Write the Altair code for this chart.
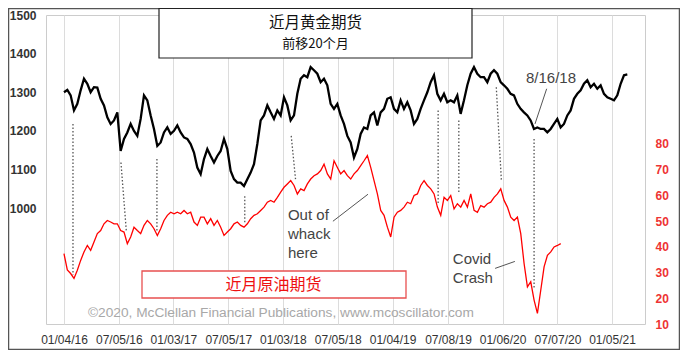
import altair as alt
import pandas as pd

# ---------------- data ----------------
# Near-month gold futures (shifted forward 20 months), evenly spaced samples
gold = [1300, 1306, 1292, 1253, 1270, 1305, 1335, 1322, 1300, 1313, 1312, 1283, 1266, 1235,
        1218, 1227, 1248, 1148, 1179, 1196, 1218, 1200, 1187, 1231, 1292, 1279, 1240, 1205,
        1161, 1170, 1196, 1209, 1192, 1200, 1214, 1196, 1183, 1179, 1166, 1144, 1105, 1088,
        1127, 1153, 1135, 1118, 1135, 1148, 1179, 1153, 1096, 1075, 1066, 1066, 1057, 1075,
        1092, 1114, 1166, 1227, 1240, 1266, 1248, 1231, 1253, 1240, 1287, 1266, 1227, 1240,
        1296, 1335, 1344, 1339, 1365, 1357, 1348, 1326, 1335, 1318, 1270, 1257, 1270, 1240,
        1218, 1187, 1170, 1131, 1153, 1192, 1209, 1205, 1240, 1248, 1214, 1248, 1257, 1283,
        1287, 1257, 1248, 1279, 1257, 1274, 1253, 1218, 1231, 1257, 1279, 1300, 1326, 1344,
        1296, 1279, 1296, 1274, 1279, 1274, 1292, 1244, 1279, 1318, 1348, 1365, 1348, 1339,
        1339, 1326, 1348, 1357, 1348, 1326, 1318, 1309, 1296, 1292, 1270, 1257, 1248, 1240,
        1227, 1205, 1209, 1205, 1205, 1196, 1205, 1218, 1231, 1209, 1218, 1240, 1253, 1283,
        1296, 1305, 1322, 1331, 1313, 1322, 1309, 1318, 1296, 1287, 1283, 1279, 1292, 1322,
        1344, 1346]
GOLD_START, GOLD_END = "2016-01-04", "2021-02-25"

# Near-month crude oil futures, evenly spaced samples
oil = [37.3, 31.0, 29.6, 27.7, 30.9, 34.7, 38.0, 40.5, 38.6, 41.8, 45.1, 46.3, 48.9, 50.2,
       49.6, 48.9, 48.9, 46.3, 45.7, 41.2, 43.8, 47.6, 46.3, 45.1, 48.3, 50.2, 48.9, 47.0,
       44.4, 47.0, 50.2, 52.2, 53.4, 52.8, 53.4, 52.8, 54.1, 52.8, 53.4, 49.6, 48.3, 51.5,
       51.5, 48.9, 50.9, 48.3, 50.2, 47.6, 44.4, 45.7, 47.0, 48.9, 49.6, 48.3, 47.6, 48.9,
       50.9, 52.2, 52.8, 54.1, 55.4, 57.3, 58.0, 57.3, 59.2, 61.2, 63.1, 64.4, 65.7, 63.8,
       60.5, 62.5, 61.8, 64.4, 66.3, 67.6, 68.3, 69.6, 72.1, 68.3, 66.3, 73.4, 70.8, 68.3,
       69.6, 67.6, 66.3, 68.3, 69.6, 71.5, 73.4, 75.4, 70.8, 65.7, 60.5, 54.1, 52.2, 47.6,
       43.8, 51.5, 53.4, 54.1, 55.4, 57.3, 56.7, 59.9, 60.5, 63.8, 65.7, 63.8, 62.5, 60.5,
       55.4, 52.2, 59.2, 58.0, 59.9, 54.7, 56.7, 55.4, 58.0, 55.4, 60.5, 54.1, 53.4, 56.0,
       55.4, 56.7, 57.3, 59.2, 60.5, 62.5, 58.0, 55.4, 51.5, 50.2, 51.5, 45.1, 33.5, 24.4,
       26.4, 19.3, 14.1, 23.1, 32.2, 36.7, 38.0, 39.9, 40.5, 41.2]
OIL_START, OIL_END = "2016-01-04", "2020-07-18"

tick_dates = ["2016-01-04", "2016-07-05", "2017-01-03", "2017-07-05", "2018-01-03",
              "2018-07-05", "2019-01-04", "2019-07-08", "2020-01-06", "2020-07-07",
              "2021-01-05"]
x_domain = ["2015-11-05", "2021-04-25"]
gold_ticks = [1000, 1100, 1200, 1300, 1400, 1500]
gold_domain = [700, 1500]
oil_ticks = [10, 20, 30, 40, 50, 60, 70, 80]
oil_domain = [10, 130]

# dotted connectors (gold trough -> oil trough), expressed on the gold scale
conn_d1 = ["2016-02-03", "2016-07-12", "2016-11-09", "2017-08-29", "2018-01-31",
           "2019-06-05", "2019-08-13", "2019-12-16", "2020-04-20"]
conn_d2 = ["2016-02-03", "2016-07-30", "2016-11-09", "2017-08-29", "2018-02-15",
           "2019-06-05", "2019-08-13", "2020-01-02", "2020-04-20"]
conn_top = [1218, 1118, 1127, 1031, 1187, 1253, 1227, 1313, 1179]
conn_bot = [827, 940, 940, 958, 1070, 1010, 1040, 1070, 793]

# annotation leader lines
lead_d1 = ["2018-06-19", "2019-12-12", "2020-06-01"]
lead_d2 = ["2018-10-14", "2020-02-16", "2020-04-23"]
lead_v1 = [966, 844, 1309]
lead_v2 = [1036, 862, 1218]

# annotation texts
ann_text = ["Out of", "whack", "here", "Covid", "Crash", "8/16/18"]
ann_date = ["2018-01-20", "2018-01-20", "2018-01-20", "2019-07-24", "2019-07-24", "2020-03-24"]
ann_val = [982, 932, 883, 867, 818, 1338]

title_main = "近月黄金期货"
title_sub = "前移20个月"
oil_label = "近月原油期货"
copyright_text = "©2020, McClellan Financial Publications, www.mcoscillator.com"

# ---------------- helpers ----------------
def iso(s):
    return s + "T00:00:00"


def dt(s):
    y, m, d = map(int, s.split("-"))
    return alt.DateTime(year=y, month=m, date=d)


gold_df = pd.DataFrame({
    "date": pd.date_range(GOLD_START, GOLD_END, periods=len(gold)).strftime("%Y-%m-%dT%H:%M:%S"),
    "v": gold})
oil_df = pd.DataFrame({
    "date": pd.date_range(OIL_START, OIL_END, periods=len(oil)).strftime("%Y-%m-%dT%H:%M:%S"),
    "v": oil})
conn_df = pd.DataFrame({"d1": [iso(s) for s in conn_d1], "d2": [iso(s) for s in conn_d2],
                        "v1": conn_top, "v2": conn_bot})
lead_df = pd.DataFrame({"d1": [iso(s) for s in lead_d1], "d2": [iso(s) for s in lead_d2],
                        "v1": lead_v1, "v2": lead_v2})
ann_df = pd.DataFrame({"d": [iso(s) for s in ann_date], "v": ann_val, "t": ann_text})
one = pd.DataFrame({"a": [0]})

LATIN = "Liberation Sans"
CJK = "Noto Sans CJK SC"

xs = alt.Scale(domain=[dt(x_domain[0]), dt(x_domain[1])])
xaxis = alt.Axis(values=[dt(s) for s in tick_dates], format="%m/%d/%y", title=None,
                 labelFont=LATIN, labelFontSize=12, labelColor="#333333",
                 labelPadding=10, ticks=False, domain=False, grid=True,
                 gridColor="#dcdcdc", gridWidth=1, labelFlush=False)
ys_gold = alt.Scale(domain=gold_domain, nice=False, zero=False)
yaxis_gold = alt.Axis(values=gold_ticks, format="d", orient="left", title=None, labelFont=LATIN,
                      labelFontSize=12, labelFontWeight="bold", labelColor="#333333",
                      labelPadding=10, ticks=False, domain=False, grid=False)
ys_oil = alt.Scale(domain=oil_domain, nice=False, zero=False)
yaxis_oil = alt.Axis(values=oil_ticks, format="d", orient="right", title=None, labelFont=LATIN,
                     labelFontSize=12, labelFontWeight="bold", labelColor="#ee3333",
                     labelPadding=10, ticks=False, domain=False, grid=False)

# ---------------- gold group (left axis) ----------------
conn = alt.Chart(conn_df).mark_rule(color="#555555", strokeDash=[1.5, 2], strokeWidth=1.3).encode(
    x=alt.X("d1:T", scale=xs, axis=xaxis), x2="d2:T",
    y=alt.Y("v1:Q", scale=ys_gold, axis=yaxis_gold), y2="v2:Q")

gold_line = alt.Chart(gold_df).mark_line(color="#000000", strokeWidth=2.3).encode(
    x=alt.X("date:T", scale=xs, axis=xaxis),
    y=alt.Y("v:Q", scale=ys_gold, axis=yaxis_gold))

leaders = alt.Chart(lead_df).mark_rule(color="#555555", strokeWidth=1).encode(
    x=alt.X("d1:T", scale=xs, axis=xaxis), x2="d2:T",
    y=alt.Y("v1:Q", scale=ys_gold, axis=yaxis_gold), y2="v2:Q")

ann = alt.Chart(ann_df).mark_text(align="left", baseline="middle", font=LATIN, fontSize=15,
                                  color="#444444").encode(
    x=alt.X("d:T", scale=xs, axis=xaxis),
    y=alt.Y("v:Q", scale=ys_gold, axis=yaxis_gold),
    text="t:N")

gold_group = alt.layer(conn, gold_line, leaders, ann)

# ---------------- oil (right axis) ----------------
oil_line = alt.Chart(oil_df).mark_line(color="#ff0000", strokeWidth=1.3).encode(
    x=alt.X("date:T", scale=xs, axis=xaxis),
    y=alt.Y("v:Q", scale=ys_oil, axis=yaxis_oil))

# ---------------- decorations ----------------
frame = alt.Chart(one).mark_rect(fill=None, stroke="#555555", strokeWidth=1.5).encode(
    x=alt.value(-37.5), x2=alt.value(633.5), y=alt.value(-6.5), y2=alt.value(334.5))

title_box = alt.Chart(one).mark_rect(fill="white", stroke="#222222", strokeWidth=1.2).encode(
    x=alt.value(113), x2=alt.value(426), y=alt.value(-6.5), y2=alt.value(43))
title1 = alt.Chart(one).mark_text(font=CJK, fontSize=15.5, color="#111111", align="center",
                                  baseline="middle").encode(
    x=alt.value(269.5), y=alt.value(7.5), text=alt.value(title_main))
title2 = alt.Chart(one).mark_text(font=CJK, fontSize=13, color="#111111", align="center",
                                  baseline="middle").encode(
    x=alt.value(269.5), y=alt.value(28.5), text=alt.value(title_sub))

red_box = alt.Chart(one).mark_rect(fill="white", stroke="#e85050", strokeWidth=1.3).encode(
    x=alt.value(96), x2=alt.value(360), y=alt.value(256), y2=alt.value(283))
red_text = alt.Chart(one).mark_text(font=CJK, fontSize=16, color="#ee1111", align="center",
                                    baseline="middle").encode(
    x=alt.value(227.5), y=alt.value(270), text=alt.value(oil_label))

copyright_mark = alt.Chart(one).mark_text(font=LATIN, fontSize=13.7, color="#a8a8a8",
                                          align="left", baseline="middle").encode(
    x=alt.value(42), y=alt.value(297.5), text=alt.value(copyright_text))

chart = alt.layer(
    frame, red_box, red_text, copyright_mark, gold_group, oil_line,
    title_box, title1, title2
).resolve_scale(y="independent").properties(
    width=599, height=309,
    autosize=alt.AutoSizeParams(type="none"),
    padding={"left": 38, "top": 7, "right": 35, "bottom": 26},
    background="white",
).configure_view(stroke="#cccccc", strokeWidth=1)

chart.save("out.html", embed_options={"renderer": "svg", "actions": False})
